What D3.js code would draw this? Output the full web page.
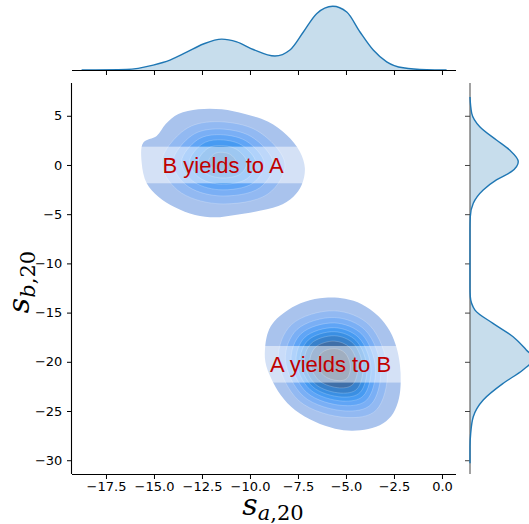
<!DOCTYPE html>
<html><head><meta charset="utf-8">
<script src="https://cdn.jsdelivr.net/npm/d3@7"></script>
<style>body{margin:0;background:#fff}svg{display:block}</style>
</head><body>
<svg id="chart" width="529" height="524"></svg>
<script>
// ---------- data ----------
const xTicks = [-17.5, -15, -12.5, -10, -7.5, -5, -2.5, 0];
const yTicks = [5, 0, -5, -10, -15, -20, -25, -30];

// marginal KDE of s_a,20 : [value, density]
const margX = [[-18.77,0],[-16.42,0.002],[-15.04,0.018],[-14.17,0.036],[-13.30,0.065],[-12.43,0.095],[-11.47,0.113],[-10.69,0.103],[-9.83,0.075],[-8.70,0.051],[-7.92,0.073],[-7.22,0.139],[-6.53,0.206],[-5.69,0.233],[-4.96,0.212],[-4.27,0.139],[-3.58,0.073],[-2.88,0.030],[-2.02,0.008],[-0.80,0.001],[0.24,0]];
// marginal KDE of s_b,20 : [value, density]
const margY = [[6.9,0],[5.25,0.003],[3.89,0.017],[2.54,0.046],[1.52,0.069],[0.34,0.084],[-0.68,0.072],[-1.52,0.046],[-2.54,0.023],[-3.89,0.0057],[-5.25,0.0005],[-6.5,0],[-12.5,0],[-13.38,0.0005],[-14.74,0.0087],[-16.09,0.040],[-17.45,0.075],[-18.80,0.098],[-19.64,0.111],[-20.83,0.092],[-22.18,0.058],[-23.88,0.023],[-25.58,0.0057],[-27.27,0.0012],[-28.63,0],[-30.3,0]];

// filled density contours, outermost first: cluster "B yields to A"
const clusterB = [
  [[-15.56,2.27],[-14.86,2.95],[-14.39,4.17],[-13.73,5.18],[-12.69,5.66],[-11.47,5.66],[-10.26,5.18],[-9.05,4.40],[-8.09,3.05],[-7.40,1.35],[-7.14,-0.34],[-7.31,-2.03],[-7.74,-3.22],[-8.52,-4.17],[-9.74,-4.74],[-10.78,-5.08],[-11.82,-5.32],[-12.86,-5.08],[-13.91,-4.30],[-14.77,-3.22],[-15.38,-1.86],[-15.64,0.2]],
  [[-11.87,4.4],[-9.59,3.44],[-8.18,0.1],[-9.06,-2.94],[-11.72,-3.93],[-13.77,-2.56],[-14.6,0.32],[-13.39,3.59]],
  [[-11.79,3.66],[-9.93,2.88],[-8.78,0.15],[-9.5,-2.33],[-11.67,-3.13],[-13.34,-2.02],[-14.02,0.34],[-13.03,3.0]],
  [[-11.73,3.08],[-10.2,2.44],[-9.26,0.2],[-9.84,-1.84],[-11.63,-2.51],[-13.01,-1.59],[-13.57,0.35],[-12.75,2.54]],
  [[-11.68,2.56],[-10.45,2.04],[-9.69,0.24],[-10.16,-1.4],[-11.59,-1.94],[-12.7,-1.2],[-13.15,0.36],[-12.5,2.12]],
  [[-11.62,1.98],[-10.71,1.6],[-10.16,0.28],[-10.5,-0.92],[-11.55,-1.31],[-12.37,-0.77],[-12.7,0.37],[-12.22,1.66]],
  [[-11.54,1.29],[-11.03,1.08],[-10.72,0.33],[-10.91,-0.35],[-11.51,-0.57],[-11.97,-0.26],[-12.16,0.38],[-11.88,1.11]]
];
// cluster "A yields to B"
const clusterA = [
  [[-8.75,-15.92],[-8.0,-14.7],[-7.14,-13.9],[-6.09,-13.5],[-5.05,-13.6],[-4.18,-14.15],[-3.32,-15.35],[-2.71,-16.9],[-2.36,-18.6],[-2.19,-20.33],[-2.15,-22.02],[-2.24,-23.71],[-2.54,-25.23],[-3.06,-26.25],[-3.84,-26.83],[-4.70,-27.0],[-5.57,-26.8],[-6.61,-26.1],[-7.66,-24.9],[-8.4,-23.37],[-8.9,-21.68],[-9.2,-19.99],[-9.2,-18.29],[-9.05,-16.94]],
  [[-5.6,-14.82],[-3.76,-16.3],[-2.84,-20.86],[-3.44,-24.94],[-4.96,-25.66],[-7.44,-23.98],[-8.52,-19.66],[-7.84,-16.22]],
  [[-5.6,-15.5],[-3.99,-16.8],[-3.19,-20.79],[-3.71,-24.36],[-5.04,-24.99],[-7.21,-23.52],[-8.16,-19.74],[-7.56,-16.73]],
  [[-5.6,-16.05],[-4.17,-17.2],[-3.46,-20.73],[-3.93,-23.9],[-5.1,-24.45],[-7.03,-23.15],[-7.86,-19.8],[-7.34,-17.14]],
  [[-5.6,-16.53],[-4.33,-17.55],[-3.7,-20.69],[-4.11,-23.49],[-5.16,-23.99],[-6.87,-22.83],[-7.6,-19.86],[-7.14,-17.5]],
  [[-5.6,-16.94],[-4.47,-17.85],[-3.91,-20.64],[-4.28,-23.14],[-5.21,-23.58],[-6.73,-22.55],[-7.39,-19.91],[-6.97,-17.8]],
  [[-5.6,-17.35],[-4.61,-18.15],[-4.12,-20.6],[-4.44,-22.79],[-5.26,-23.18],[-6.59,-22.28],[-7.17,-19.96],[-6.8,-18.11]],
  [[-5.6,-17.9],[-4.8,-18.55],[-4.39,-20.55],[-4.66,-22.33],[-5.32,-22.65],[-6.4,-21.91],[-6.88,-20.02],[-6.58,-18.51]],
  [[-5.6,-18.66],[-5.05,-19.1],[-4.77,-20.47],[-4.95,-21.69],[-5.41,-21.91],[-6.15,-21.4],[-6.48,-20.11],[-6.27,-19.08]]
];

const labels = ["B yields to A", "A yields to B"];
const labelX = [-11.4, -5.8];
const labelY = [0, -20.25];

// ---------- layout ----------
const svg = d3.select("#chart");
const L = 72, R = 456, T = 83, B = 474;
const x = d3.scaleLinear().domain([-19.27, 0.73]).range([L, R]);
const y = d3.scaleLinear().domain([-31.4, 8.33]).range([B, T]);
const margTopBase = 70;
const dX = d3.scaleLinear().domain([0, 0.245]).range([margTopBase, 3]);
const margRightBase = 470;
const dY = d3.scaleLinear().domain([0, 0.1166]).range([margRightBase, 537]);

// band colours (light -> dark)
const bandL = [78, 74, 70, 66, 62, 57.5, 52, 45.5, 38];
const bandC = [24, 33, 41, 48, 52, 51, 46, 36, 24];
const palette = bandL.map((l, i) => d3.hcl(265, bandC[i], l).formatHex());

const C0 = "#1f77b4";
const font = "'DejaVu Sans', sans-serif";

// ---------- contours ----------
const ring = d3.line().x(d => x(d[0])).y(d => y(d[1])).curve(d3.curveCatmullRomClosed.alpha(0.5));
const gC = svg.append("g");
[clusterB, clusterA].forEach(cl => {
  cl.forEach((poly, i) => {
    gC.append("path").attr("d", ring(poly)).attr("fill", palette[i])
      .attr("stroke", "#ffffff").attr("stroke-opacity", i === 0 ? 0 : 0.3).attr("stroke-width", 0.7);
  });
});

// ---------- label bands & texts ----------
labels.forEach((t, i) => {
  const cy = y(labelY[i]);
  svg.append("rect").attr("x", L + 1).attr("y", cy - 18.3).attr("width", R - L - 1).attr("height", 36.6)
    .attr("fill", "#ffffff").attr("fill-opacity", 0.5);
  svg.append("text").attr("x", x(labelX[i])).attr("y", cy).attr("dy", "0.345em")
    .attr("text-anchor", "middle").attr("font-family", "'Liberation Sans', Arial, sans-serif")
    .attr("font-size", 22).attr("fill", "#c00000").text(t);
});

// ---------- main axes ----------
const xAxis = d3.axisBottom(x).tickValues(xTicks).tickSize(5).tickPadding(2.5).tickFormat(d3.format(".1f"));
const yAxis = d3.axisLeft(y).tickValues(yTicks).tickSize(5).tickPadding(4.7).tickFormat(d3.format("d"));
const gx = svg.append("g").attr("transform", `translate(0,${B})`).call(xAxis);
gx.select(".domain").attr("d", `M${L},0.5H${R}`);
const gy = svg.append("g").attr("transform", `translate(${L},0)`).call(yAxis);
gy.select(".domain").attr("d", `M-0.5,${T}V${B}`);
[gx, gy].forEach(g => {
  g.selectAll("text").attr("font-family", font).attr("font-size", 13).attr("fill", "#000");
  g.selectAll("line").attr("stroke", "#000").attr("stroke-width", 1);
  g.select(".domain").attr("stroke", "#000").attr("stroke-width", 1.1);
});

// ---------- top marginal ----------
const areaX = d3.area().x(d => x(d[0])).y0(margTopBase).y1(d => dX(d[1])).curve(d3.curveMonotoneX);
const lineX = d3.line().x(d => x(d[0])).y(d => dX(d[1])).curve(d3.curveMonotoneX);
svg.append("path").attr("d", areaX(margX)).attr("fill", C0).attr("fill-opacity", 0.25);
svg.append("path").attr("d", lineX(margX)).attr("fill", "none").attr("stroke", C0).attr("stroke-width", 1.4);
const gmx = svg.append("g").attr("transform", `translate(0,${margTopBase})`)
  .call(d3.axisBottom(x).tickValues(xTicks).tickSize(5).tickFormat(""));
gmx.select(".domain").attr("d", `M${L},0.5H${R}`).attr("stroke", "#000").attr("stroke-width", 1.1);
gmx.selectAll("line").attr("stroke", "#000");

// ---------- right marginal ----------
const areaY = d3.area().y(d => y(d[0])).x0(margRightBase).x1(d => dY(d[1])).curve(d3.curveMonotoneY);
const lineY = d3.line().y(d => y(d[0])).x(d => dY(d[1])).curve(d3.curveMonotoneY);
svg.append("path").attr("d", areaY(margY)).attr("fill", C0).attr("fill-opacity", 0.25);
const gmy = svg.append("g").attr("transform", `translate(${margRightBase},0)`)
  .call(d3.axisLeft(y).tickValues(yTicks).tickSize(5).tickFormat(""));
gmy.select(".domain").attr("d", `M0,${T}V${B}`).attr("stroke", "#555").attr("stroke-width", 1.1);
gmy.selectAll("line").attr("stroke", "#444");
svg.append("path").attr("d", lineY(margY)).attr("fill", "none").attr("stroke", C0).attr("stroke-width", 1.4);

// ---------- axis labels ----------
const xl = svg.append("text").attr("x", 273).attr("y", 515).attr("text-anchor", "middle")
  .attr("font-family", "'DejaVu Serif', serif").attr("fill", "#000");
xl.append("tspan").attr("font-style", "italic").attr("font-size", 30).text("s");
xl.append("tspan").attr("font-style", "italic").attr("font-size", 21).attr("dy", 5).text("a");
xl.append("tspan").attr("font-size", 21).text(",20");

const yl = svg.append("text").attr("transform", "translate(28.5,282) rotate(-90)").attr("text-anchor", "middle")
  .attr("font-family", "'DejaVu Serif', serif").attr("fill", "#000");
yl.append("tspan").attr("font-style", "italic").attr("font-size", 30).text("s");
yl.append("tspan").attr("font-style", "italic").attr("font-size", 21).attr("dy", 6).text("b");
yl.append("tspan").attr("font-size", 21).text(",20");
</script>
</body></html>
